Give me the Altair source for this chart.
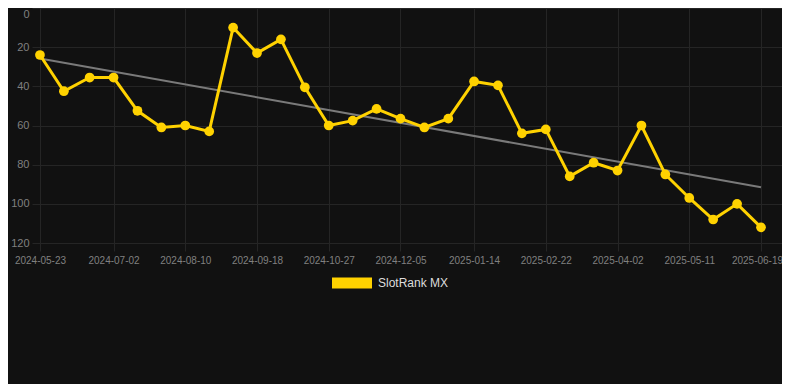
import altair as alt
import pandas as pd

dates = [
    "2024-05-23", "2024-06-05", "2024-06-19", "2024-07-02", "2024-07-15", "2024-07-28",
    "2024-08-10", "2024-08-23", "2024-09-05", "2024-09-18", "2024-10-01", "2024-10-14",
    "2024-10-27", "2024-11-09", "2024-11-22", "2024-12-05", "2024-12-18", "2024-12-31",
    "2025-01-14", "2025-01-27", "2025-02-09", "2025-02-22", "2025-03-07", "2025-03-20",
    "2025-04-02", "2025-04-15", "2025-04-28", "2025-05-11", "2025-05-24", "2025-06-06",
    "2025-06-19",
]
ranks = [
    24, 42.5, 35.5, 35.5, 52.5, 61, 60, 63, 10, 23,
    16, 40.5, 60, 57.5, 51.5, 56.5, 61, 56.5, 37.5, 39.5,
    64, 62, 86, 79, 83, 60, 85, 97, 108, 100,
    112,
]
series = ["SlotRank MX"] * len(dates)

tick_dates = [
    (2024, 5, 23), (2024, 7, 2), (2024, 8, 10), (2024, 9, 18), (2024, 10, 27),
    (2024, 12, 5), (2025, 1, 14), (2025, 2, 22), (2025, 4, 2), (2025, 5, 11),
    (2025, 6, 19),
]
y_ticks = [0, 20, 40, 60, 80, 100, 120]

df = pd.DataFrame({"date": pd.to_datetime(dates), "rank": ranks, "series": series})

YELLOW = "#FFD200"
BG = "#111111"
GRID = "#252525"
LABEL = "#808080"
FONT = "Liberation Sans"

x_enc = alt.X(
    "date:T",
    scale=alt.Scale(domain=[
        alt.DateTime(year=2024, month=5, date=18, hours=16),
        alt.DateTime(year=2025, month=6, date=30, hours=10),
    ]),
    axis=alt.Axis(
        values=[alt.DateTime(year=y, month=m, date=d) for (y, m, d) in tick_dates],
        format="%Y-%m-%d",
        title=None,
        grid=True,
        gridColor=GRID,
        domain=False,
        ticks=True,
        tickSize=8,
        tickColor=GRID,
        labelColor=LABEL,
        labelFont=FONT,
        labelFontSize=10,
        labelPadding=4,
        labelFlush=False,
        labelOffset={"condition": {"test": "datum.index == 1", "value": -4}, "value": 0},
    ),
)
y_enc = alt.Y(
    "rank:Q",
    scale=alt.Scale(domain=[0, 120], reverse=True, nice=False, zero=False),
    axis=alt.Axis(
        values=y_ticks,
        title=None,
        grid=True,
        gridColor=GRID,
        domain=False,
        ticks=False,
        labelColor=LABEL,
        labelFont=FONT,
        labelFontSize=11,
        labelPadding=3,
        labelBaseline={"condition": {"test": "datum.value == 0", "value": "top"}, "value": "middle"},
    ),
)

base = alt.Chart(df)

trend = base.transform_regression("date", "rank").mark_line(
    color="#7a7a7a", strokeWidth=2
).encode(x=x_enc, y=y_enc)

line = base.mark_line(color=YELLOW, strokeWidth=3).encode(x=x_enc, y=y_enc)

points = base.mark_point(filled=True, size=95, opacity=1).encode(
    x=x_enc,
    y=y_enc,
    color=alt.Color(
        "series:N",
        scale=alt.Scale(range=[YELLOW]),
        legend=alt.Legend(
            title=None,
            orient="none",
            legendX=300,
            legendY=255,
            padding=0,
            symbolType="M-1,-0.275L1,-0.275L1,0.275L-1,0.275Z",
            symbolSize=1600,
            symbolOpacity=1,
            symbolStrokeWidth=0,
            labelColor="#dddddd",
            labelFont=FONT,
            labelFontSize=12,
            labelOffset=6,
        ),
    ),
)

chart = (
    alt.layer(trend, line, points)
    .properties(
        width=750,
        height=235,
        background=BG,
        autosize=alt.AutoSizeParams(type="none"),
        padding={"left": 24, "top": 0, "right": 0, "bottom": 141},
    )
    .configure_view(stroke=None)
)

chart.save("out.html", embed_options={"renderer": "svg", "actions": False})
